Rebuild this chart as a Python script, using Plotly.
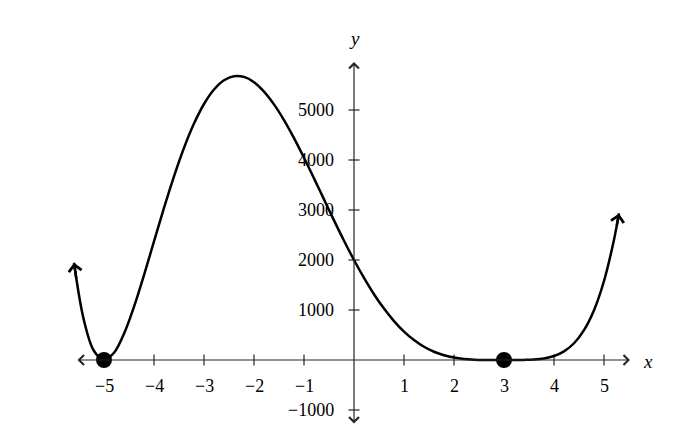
import plotly.graph_objects as go

# Curve values
curve_x = [-5.6, -5.4, -5.2, -5.0, -4.8, -4.6, -4.4, -4.2, -4.0, -3.8, -3.6, -3.4, -3.2, -3.0,
           -2.8, -2.6, -2.4, -2.2, -2.0, -1.8, -1.6, -1.4, -1.2, -1.0, -0.8, -0.6, -0.4, -0.2,
           0.0, 0.2, 0.4, 0.6, 0.8, 1.0, 1.2, 1.4, 1.6, 1.8, 2.0, 2.2, 2.4, 2.6, 2.8, 3.0,
           3.2, 3.4, 3.6, 3.8, 4.0, 4.2, 4.4, 4.6, 4.8, 5.0, 5.2, 5.3]
curve_y = [1945, 787, 179, 0, 146, 527, 1066, 1699, 2371, 3041, 3673, 4242, 4728, 5120,
           5409, 5595, 5677, 5662, 5556, 5369, 5112, 4798, 4438, 4045, 3633, 3212, 2793, 2386,
           2000, 1642, 1316, 1028, 778, 569, 399, 265, 165, 95, 48, 21, 7, 1, 0, 0,
           0, 2, 9, 31, 80, 173, 335, 597, 996, 1580, 2407, 2932]

# Marked zeros
zero_x = [-5, 3]
zero_y = [0, 0]

# Axis ticks / labels
x_ticks = [-5, -4, -3, -2, -1, 1, 2, 3, 4, 5]
x_tick_labels = ["−5", "−4", "−3", "−2", "−1", "1", "2", "3", "4", "5"]
y_ticks = [-1000, 1000, 2000, 3000, 4000, 5000]
y_tick_labels = ["−1000", "1000", "2000", "3000", "4000", "5000"]

# Axis extents
x_axis_min, x_axis_max = -5.56, 5.52
y_axis_min, y_axis_max = -1300, 5960

FONT = "Liberation Serif"
AXIS_COLOR = "#262626"

fig = go.Figure()

# ticks
fig.add_trace(go.Scatter(
    x=x_ticks, y=[0] * len(x_ticks), mode="markers",
    marker=dict(symbol="line-ns", size=8, line=dict(width=1.2, color=AXIS_COLOR)),
    hoverinfo="skip", showlegend=False))
fig.add_trace(go.Scatter(
    x=[0] * len(y_ticks), y=y_ticks, mode="markers",
    marker=dict(symbol="line-ew", size=8, line=dict(width=1.2, color=AXIS_COLOR)),
    hoverinfo="skip", showlegend=False))

# curve
fig.add_trace(go.Scatter(
    x=curve_x, y=curve_y, mode="lines",
    line=dict(color="black", width=2.5, shape="spline", smoothing=1),
    hoverinfo="skip", showlegend=False))

# zero points
fig.add_trace(go.Scatter(
    x=zero_x, y=zero_y, mode="markers",
    marker=dict(size=16, color="black"),
    hoverinfo="skip", showlegend=False))

annotations = [
    # x axis
    dict(x=x_axis_max, y=0, ax=x_axis_min, ay=0, xref="x", yref="y", axref="x", ayref="y",
         text="", showarrow=True, arrowhead=4, startarrowhead=4, arrowside="end+start",
         arrowwidth=1.2, arrowsize=1.6, startarrowsize=1.6, arrowcolor=AXIS_COLOR),
    # y axis
    dict(x=0, y=y_axis_max, ax=0, ay=y_axis_min, xref="x", yref="y", axref="x", ayref="y",
         text="", showarrow=True, arrowhead=4, startarrowhead=4, arrowside="end+start",
         arrowwidth=1.2, arrowsize=1.6, startarrowsize=1.6, arrowcolor=AXIS_COLOR),
    # curve end arrows
    dict(x=curve_x[0], y=curve_y[0], ax=-5.55, ay=1600, xref="x", yref="y", axref="x", ayref="y",
         text="", showarrow=True, arrowhead=4, arrowwidth=2.5, arrowsize=1.0, arrowcolor="black"),
    dict(x=curve_x[-1], y=curve_y[-1], ax=5.25, ay=2660, xref="x", yref="y", axref="x", ayref="y",
         text="", showarrow=True, arrowhead=4, arrowwidth=2.5, arrowsize=1.0, arrowcolor="black"),
    # axis names
    dict(x=5.88, y=-20, xref="x", yref="y", text="<i>x</i>", showarrow=False,
         font=dict(family=FONT, size=19, color="black")),
    dict(x=0, y=6440, xref="x", yref="y", text="<i>y</i>", showarrow=False,
         font=dict(family=FONT, size=19, color="black")),
]

# tick labels
for xv, lab in zip(x_ticks, x_tick_labels):
    annotations.append(dict(x=xv, y=-520, xref="x", yref="y", text=lab, showarrow=False,
                            xanchor="center", yanchor="middle",
                            font=dict(family=FONT, size=18, color="black")))
for yv, lab in zip(y_ticks, y_tick_labels):
    annotations.append(dict(x=-0.36, y=yv, xref="x", yref="y", text=lab, showarrow=False,
                            xanchor="right", yanchor="middle",
                            font=dict(family=FONT, size=18, color="black")))

# page body has an 8px margin, so the figure is 674x436 and sits at (8, 8)
fig.update_layout(
    width=674, height=436,
    margin=dict(l=21, r=3, t=2, b=4),
    paper_bgcolor="white", plot_bgcolor="white",
    xaxis=dict(range=[-6.5, 6.5], visible=False, fixedrange=True),
    yaxis=dict(range=[-1600, 7000], visible=False, fixedrange=True),
    annotations=annotations,
    showlegend=False,
)

fig.write_html("out.html")
